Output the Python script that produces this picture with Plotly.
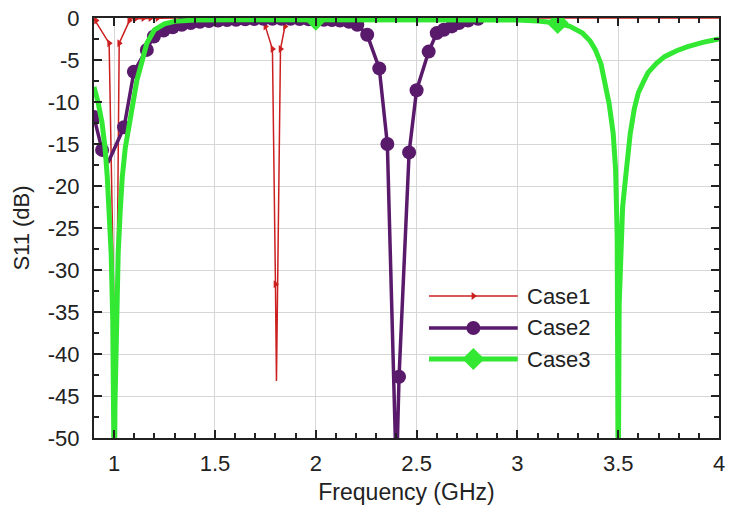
import plotly.graph_objects as go

# ---------------- data ----------------
# Case1: reflection of the dual-band (1.0 / 1.8 GHz) design
case1_freq = [0.900, 0.975, 1.002, 1.006, 1.025, 1.080, 1.300, 1.600, 1.740, 1.750,
              1.785, 1.800, 1.805, 1.825, 1.847, 1.860, 2.200, 2.600, 3.000, 3.500, 4.000]
case1_s11 = [-0.1, -3.0, -39.0, -55.0, -3.0, -0.1, 0.0, 0.0, 0.0, -1.0,
             -3.7, -31.7, -43.2, -3.7, -1.0, 0.0, 0.0, 0.0, 0.0, 0.0, 0.0]
case1_mk_freq = [0.910, 0.975, 1.002, 1.025, 1.075, 1.110, 1.145, 1.180, 1.215,
                 1.750, 1.785, 1.800, 1.825, 1.847]
case1_mk_s11 = [-0.3, -3.0, -39.0, -3.0, -0.3, 0.0, 0.0, 0.0, 0.0,
                -1.0, -3.7, -31.7, -3.7, -1.0]

# Case2: 1.0 / 2.4 GHz design
case2_freq = [0.900, 0.940, 0.970, 1.049, 1.098, 1.162, 1.197, 1.245, 1.290, 1.335,
              1.380, 1.425, 1.470, 1.515, 1.560, 1.605, 1.650, 1.695, 1.740, 1.785,
              1.830, 1.875, 1.920, 1.965, 2.040, 2.080, 2.120, 2.165, 2.206, 2.255,
              2.315, 2.355, 2.400, 2.413, 2.463, 2.500, 2.560, 2.600, 2.635, 2.675,
              2.710, 2.755, 2.805]
case2_s11 = [-11.8, -15.7, -17.2, -13.0, -6.4, -3.8, -2.2, -1.5, -1.1, -0.8,
             -0.6, -0.45, -0.35, -0.3, -0.25, -0.2, -0.15, -0.12, -0.1, -0.1,
             -0.1, -0.1, -0.12, -0.15, -0.2, -0.25, -0.3, -0.45, -0.8, -2.0,
             -6.0, -15.0, -55.0, -42.7, -16.0, -8.6, -4.0, -1.8, -1.4, -1.0,
             -0.6, -0.3, -0.1]
case2_mk_freq = [0.900, 0.940, 1.049, 1.098, 1.162, 1.197, 1.245, 1.290, 1.335,
                 1.380, 1.425, 1.470, 1.515, 1.560, 1.605, 1.650, 1.695, 1.740, 1.785,
                 1.830, 1.875, 1.920, 1.965, 2.040, 2.080, 2.120, 2.165, 2.206, 2.255,
                 2.315, 2.355, 2.413, 2.463, 2.500, 2.560, 2.600, 2.635, 2.675,
                 2.710, 2.755, 2.805]
case2_mk_s11 = [-11.8, -15.7, -13.0, -6.4, -3.8, -2.2, -1.5, -1.1, -0.8,
                -0.6, -0.45, -0.35, -0.3, -0.25, -0.2, -0.15, -0.12, -0.1, -0.1,
                -0.1, -0.1, -0.12, -0.15, -0.2, -0.25, -0.3, -0.45, -0.8, -2.0,
                -6.0, -15.0, -42.7, -16.0, -8.6, -4.0, -1.8, -1.4, -1.0,
                -0.6, -0.3, -0.1]

# Case3: 1.0 / 3.5 GHz design
case3_freq = [0.900, 0.920, 0.940, 0.955, 0.966, 0.975, 0.985, 0.993, 0.998, 1.001,
              1.004, 1.010, 1.020, 1.030, 1.040, 1.055, 1.075, 1.090, 1.113, 1.140,
              1.162, 1.200, 1.250, 1.300, 1.400, 1.600, 2.000, 2.400, 2.800, 3.000,
              3.100, 3.200, 3.260, 3.323, 3.360, 3.387, 3.415, 3.436, 3.455, 3.475,
              3.487, 3.495, 3.500, 3.505, 3.512, 3.522, 3.534, 3.545, 3.560, 3.580,
              3.600, 3.625, 3.648, 3.690, 3.730, 3.790, 3.845, 3.920, 4.000]
case3_s11 = [-8.2, -10.0, -12.5, -15.5, -19.0, -22.5, -28.0, -36.0, -46.0, -58.0,
             -46.0, -36.0, -28.0, -23.0, -19.0, -15.5, -12.5, -10.0, -7.4, -5.0,
             -3.0, -1.4, -0.7, -0.4, -0.25, -0.2, -0.2, -0.2, -0.2, -0.25,
             -0.35, -0.6, -1.0, -1.8, -2.7, -3.8, -5.5, -7.7, -10.2, -13.7,
             -18.0, -26.0, -58.0, -34.0, -27.0, -22.5, -19.6, -16.5, -13.7, -10.8,
             -8.9, -7.6, -6.5, -5.4, -4.6, -3.9, -3.4, -2.9, -2.5]
case3_mk_freq = [2.000, 3.200]
case3_mk_s11 = [-0.2, -0.6]

# axis ticks
x_tick_vals = [1.0, 1.5, 2.0, 2.5, 3.0, 3.5, 4.0]
x_tick_text = ["1", "1.5", "2", "2.5", "3", "3.5", "4"]
y_tick_vals = [0, -5, -10, -15, -20, -25, -30, -35, -40, -45, -50]
y_tick_text = ["0", "-5", "-10", "-15", "-20", "-25", "-30", "-35", "-40", "-45", "-50"]

series_names = ["Case1", "Case2", "Case3"]

# ---------------- styling ----------------
FONT = "Liberation Sans, Arial, sans-serif"
INK = "#222222"
styles = [
    dict(color="#cc1f1f", width=1.5, symbol="triangle-right", size=7),
    dict(color="#5a1a6b", width=3.5, symbol="circle", size=14),
    dict(color="#33e833", width=5, symbol="diamond", size=17),
]
lines = [(case1_freq, case1_s11), (case2_freq, case2_s11), (case3_freq, case3_s11)]
marks = [(case1_mk_freq, case1_mk_s11), (case2_mk_freq, case2_mk_s11),
         (case3_mk_freq, case3_mk_s11)]

fig = go.Figure()
for name, st, (fx, fy), (mx, my) in zip(series_names, styles, lines, marks):
    fig.add_trace(go.Scatter(x=fx, y=fy, mode="lines", name=name, showlegend=False,
                             line=dict(color=st["color"], width=st["width"])))
    fig.add_trace(go.Scatter(x=mx, y=my, mode="markers", name=name, showlegend=False,
                             marker=dict(color=st["color"], symbol=st["symbol"],
                                         size=st["size"], line=dict(width=0))))

# key drawn inside the plot on an overlay axis (fractions of the plot area)
key_x0, key_x1, key_xm, key_xt = 0.536, 0.678, 0.607, 0.690
key_rows = [0.338, 0.262, 0.188]
for name, st, yr in zip(series_names, styles, key_rows):
    fig.add_trace(go.Scatter(x=[key_x0, key_x1], y=[yr, yr], mode="lines",
                             xaxis="x2", yaxis="y2", showlegend=False, hoverinfo="skip",
                             line=dict(color=st["color"], width=st["width"])))
    fig.add_trace(go.Scatter(x=[key_xm], y=[yr], mode="markers",
                             xaxis="x2", yaxis="y2", showlegend=False, hoverinfo="skip",
                             marker=dict(color=st["color"], symbol=st["symbol"],
                                         size=st["size"], line=dict(width=0))))
    fig.add_annotation(x=key_xt, y=yr, xref="x2", yref="y2", text=name,
                       showarrow=False, xanchor="left", yanchor="middle",
                       font=dict(family=FONT, size=22, color=INK))

axis_common = dict(
    ticks="inside", ticklen=8, tickwidth=1.5, tickcolor=INK,
    showline=True, linecolor=INK, linewidth=2, mirror="allticks",
    showgrid=True, gridcolor="#d6d6d6", gridwidth=1, zeroline=False,
    tickfont=dict(family=FONT, size=22, color=INK),
)

fig.update_layout(
    width=731, height=516,
    margin=dict(l=94, r=6, t=18, b=78),
    paper_bgcolor="white", plot_bgcolor="white",
    xaxis=dict(range=[0.9, 4.0], tickmode="array", tickvals=x_tick_vals,
               ticktext=x_tick_text, ticklabelstandoff=5,
               minor=dict(dtick=0.1, tick0=0, ticks="inside", ticklen=5,
                          tickwidth=1.5, tickcolor=INK, showgrid=False),
               title=dict(text="Frequency (GHz)", standoff=8,
                          font=dict(family=FONT, size=23, color=INK)),
               **axis_common),
    yaxis=dict(range=[-50, 0], tickmode="array", tickvals=y_tick_vals,
               ticktext=y_tick_text, ticklabelstandoff=8,
               minor=dict(dtick=2.5, tick0=0, ticks="inside", ticklen=5,
                          tickwidth=1.5, tickcolor=INK, showgrid=False),
               title=dict(text="S11 (dB)", standoff=12,
                          font=dict(family=FONT, size=22, color=INK)),
               **axis_common),
    xaxis2=dict(range=[0, 1], overlaying="x", visible=False, fixedrange=True),
    yaxis2=dict(range=[0, 1], overlaying="y", visible=False, fixedrange=True),
    showlegend=False,
)

fig.write_html("out.html")
